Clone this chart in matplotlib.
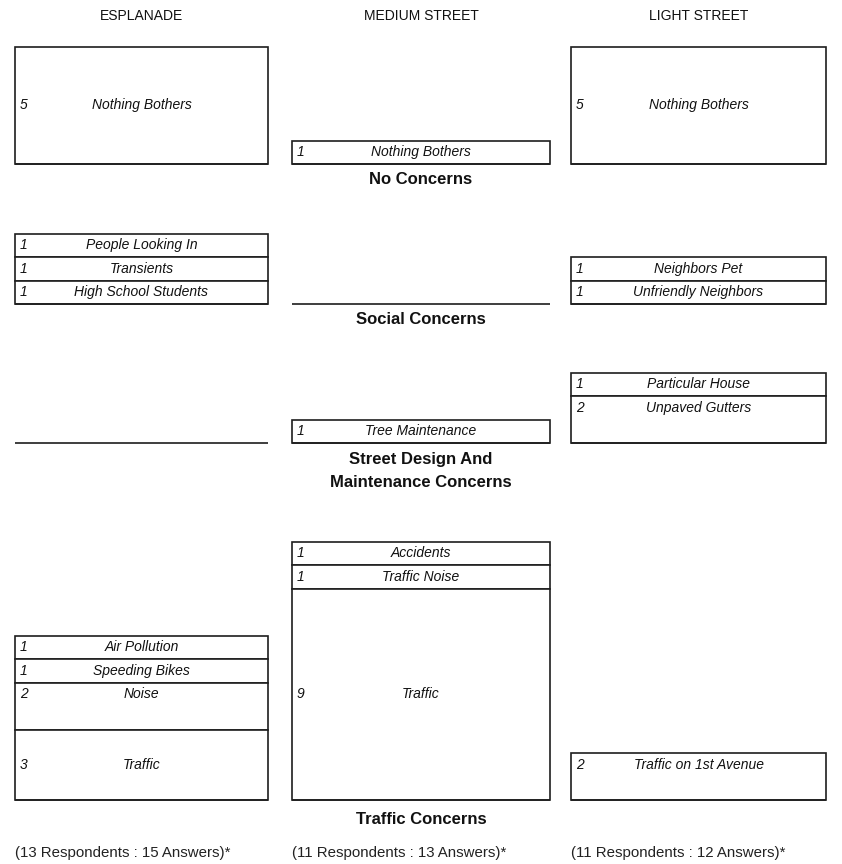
import matplotlib.pyplot as plt

plt.rcParams['font.family'] = ['Liberation Sans Narrow', 'Liberation Sans', 'DejaVu Sans']

# ---------- data ----------
columns = ['ESPLANADE', 'MEDIUM STREET', 'LIGHT STREET']
groups = ['No Concerns', 'Social Concerns',
          'Street Design And\nMaintenance Concerns', 'Traffic Concerns']
footnotes = ['(13 Respondents : 15 Answers)*',
             '(11 Respondents : 13 Answers)*',
             '(11 Respondents : 12 Answers)*']

# answers per column, one list per concern group, listed top to bottom
esp_labels = [['Nothing Bothers'],
              ['People Looking In', 'Transients', 'High School Students'],
              [],
              ['Air Pollution', 'Speeding Bikes', 'Noise', 'Traffic']]
esp_counts = [[5], [1, 1, 1], [], [1, 1, 2, 3]]

med_labels = [['Nothing Bothers'],
              [],
              ['Tree Maintenance'],
              ['Accidents', 'Traffic Noise', 'Traffic']]
med_counts = [[1], [], [1], [1, 1, 9]]

lig_labels = [['Nothing Bothers'],
              ['Neighbors Pet', 'Unfriendly Neighbors'],
              ['Particular House', 'Unpaved Gutters'],
              ['Traffic on 1st Avenue']]
lig_counts = [[5], [1, 1], [1, 2], [2]]

all_labels = [esp_labels, med_labels, lig_labels]
all_counts = [esp_counts, med_counts, lig_counts]

# ---------- layout (pixel coords) ----------
W, H = 842, 864
col_x = [141.5, 421, 698.5]
col_w = [253, 258, 255]
baselines = [164, 304, 443, 800]
UNIT = 23.5
edge = '#1e1e1e'

fig = plt.figure(figsize=(W / 100, H / 100), dpi=100)
ax = fig.add_axes([0, 0, 1, 1])
ax.set_xlim(0, W)
ax.set_ylim(H, 0)
ax.axis('off')

for c, name in enumerate(columns):
    left = col_x[c] - col_w[c] / 2
    ax.text(col_x[c], 16, name, ha='center', va='center', fontsize=10, color='#111')
    ax.text(left, 853, footnotes[c], ha='left', va='center',
            fontsize=10.8, color='#222')
    for g, base in enumerate(baselines):
        ax.hlines(base, left, left + col_w[c], color=edge, lw=1.2)
        labels = all_labels[c][g]
        counts = all_counts[c][g]
        top = base - sum(counts) * UNIT
        for lab, n in zip(labels, counts):
            ax.bar(col_x[c], n * UNIT, bottom=top, width=col_w[c],
                   facecolor='white', edgecolor=edge, linewidth=1.2)
            # two-answer boxes carry their label in the first row
            if n == 2:
                ty = top + UNIT / 2
            else:
                ty = top + n * UNIT / 2
            ax.text(left + 5, ty, str(n), ha='left', va='center',
                    fontsize=10, style='italic', color='#111')
            ax.text(col_x[c], ty, lab, ha='center', va='center',
                    fontsize=10, style='italic', color='#111')
            top += n * UNIT

group_y = [180, 320, 471, 820]
for g, name in enumerate(groups):
    ax.text(col_x[1], group_y[g], name, ha='center', va='center',
            fontsize=12, fontweight='bold', color='#111', linespacing=1.6)

fig.savefig('out.png', dpi=100)
